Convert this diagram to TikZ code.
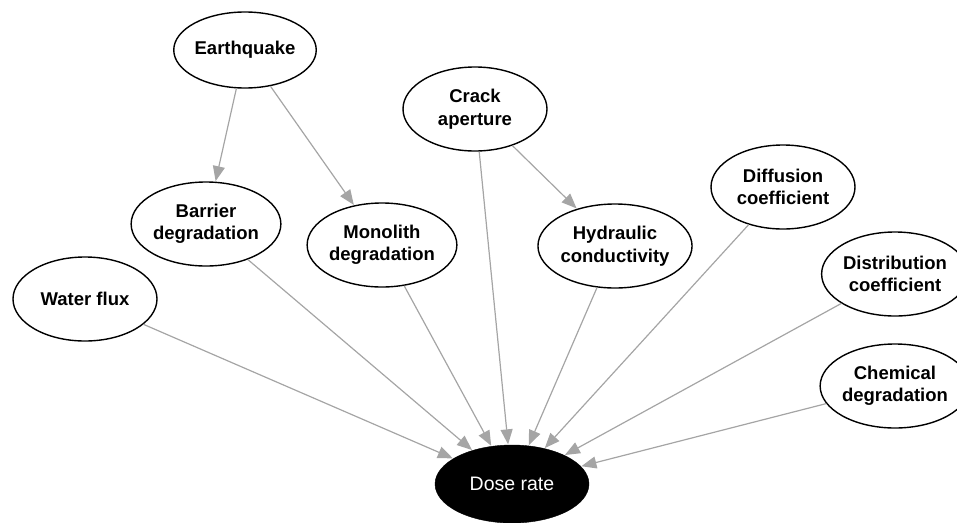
\documentclass[tikz,border=0pt]{standalone}
\usepackage{fontspec}
\setmainfont{Liberation Sans}
\usetikzlibrary{shapes.geometric,arrows.meta}
\definecolor{edgegray}{RGB}{165,165,165}
\tikzset{
  var/.style={ellipse, draw=black, line width=1.4pt, fill=white, inner sep=0pt,
    minimum width=144pt, minimum height=84pt, align=center,
    font=\fontsize{18.5}{22.5}\selectfont\bfseries},
  target/.style={ellipse, draw=black, fill=black, inner sep=0pt,
    minimum width=154pt, minimum height=78pt, text=white,
    font=\fontsize{19.5}{23}\selectfont},
  link/.style={draw=edgegray, line width=1.2pt,
    -{Triangle[length=15pt,width=12pt,fill=edgegray]}, shorten >=0.5pt}
}
\begin{document}
\begin{tikzpicture}[x=1pt,y=-1pt]
\useasboundingbox (0,0) rectangle (957,522);
\node[var, minimum width=140pt, minimum height=76pt] (eq) at (245,50) {Earthquake};
\node[var] (crack) at (475,109) {Crack\\aperture};
\node[var] (barrier) at (206,224) {Barrier\\degradation};
\node[var] (mono) at (382,245) {Monolith\\degradation};
\node[var] (hyd) at (615,246) {Hydraulic\\conductivity};
\node[var] (diff) at (783,187) {Diffusion\\coefficient};
\node[var] (dist) at (895,274) {Distribution\\coefficient};
\node[var] (chem) at (895,386) {Chemical\\degradation};
\node[var] (water) at (85,299) {Water flux};
\node[target] (dose) at (512,484) {Dose rate};

\draw[link] (eq) -- (barrier);
\draw[link] (eq) -- (mono);
\draw[link] (crack) -- (hyd);
\draw[link] (crack) -- (dose);
\draw[link] (barrier) -- (dose);
\draw[link] (mono) -- (dose);
\draw[link] (hyd) -- (dose);
\draw[link] (diff) -- (dose);
\draw[link] (dist) -- (dose);
\draw[link] (chem) -- (dose);
\draw[link] (water) -- (dose);
\end{tikzpicture}
\end{document}
